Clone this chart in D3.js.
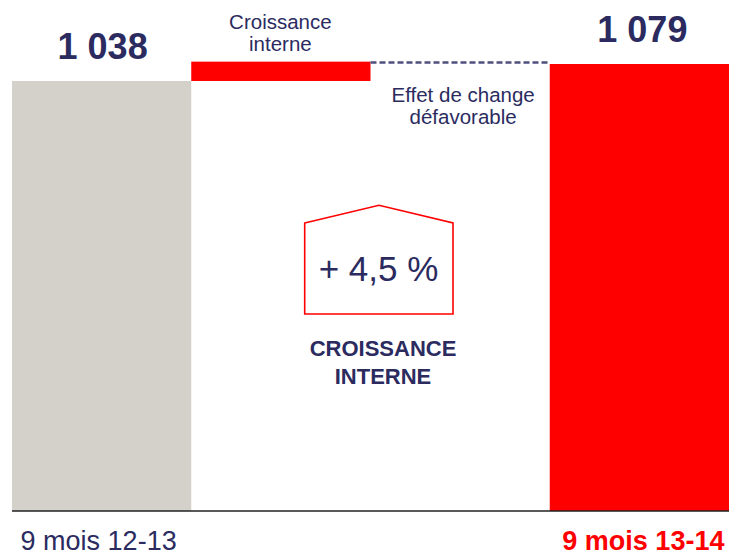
<!DOCTYPE html>
<html>
<head>
<meta charset="utf-8">
<script src="https://cdn.jsdelivr.net/npm/d3@7"></script>
<style>
  html, body { margin: 0; padding: 0; background: #fff; }
  svg { display: block; font-family: "Liberation Sans", Arial, sans-serif; }
</style>
</head>
<body>
<svg id="chart" width="730" height="556"></svg>
<script>
// ---- data ----
const categories = ["9 mois 12-13", "Croissance interne", "Effet de change défavorable", "9 mois 13-14"];
const stepKinds = ["total", "delta", "delta", "total"];
const stepValues = [1038, 46.7, -5.7, 1079];
const valueLabels = ["1 038", "", "", "1 079"];
const axisLabels = ["9 mois 12-13", "", "", "9 mois 13-14"];
const growthPct = "+ 4,5 %";
const growthCaption = ["CROISSANCE", "INTERNE"];

const NAVY = "#2b2b5f", RED = "#ff0000", GREY = "#d4d1ca";

const svg = d3.select("#chart");
const x = d3.scaleBand().domain(categories).range([12, 729]).padding(0);
const y = d3.scaleLinear().domain([0, 1233.5]).range([511, 0]);

// compute waterfall segments
let run = 0;
const segs = categories.map((c, i) => {
  let lo, hi;
  if (stepKinds[i] === "total") { lo = 0; hi = stepValues[i]; run = stepValues[i]; }
  else { const a = run, b = run + stepValues[i]; lo = Math.min(a, b); hi = Math.max(a, b); run = b; }
  return { c, i, lo, hi, v: stepValues[i] };
});

// bars (positive / totals)
svg.selectAll("rect.bar")
  .data(segs.filter(d => !(stepKinds[d.i] === "delta" && d.v < 0)))
  .join("rect")
  .attr("class", "bar")
  .attr("x", d => x(d.c))
  .attr("width", x.bandwidth())
  .attr("y", d => y(d.hi))
  .attr("height", d => y(d.lo) - y(d.hi))
  .attr("fill", d => d.i === 0 ? GREY : RED);

// negative delta: dashed marker
segs.filter(d => stepKinds[d.i] === "delta" && d.v < 0).forEach(d => {
  const ym = (y(d.hi) + y(d.lo)) / 2 - 0.3;
  svg.append("line")
    .attr("x1", x(d.c)).attr("x2", x(d.c) + x.bandwidth())
    .attr("y1", ym).attr("y2", ym)
    .attr("stroke", "#4f4f7c").attr("stroke-width", 2.4)
    .attr("stroke-dasharray", "6,3");
});

// axis
const axis = d3.axisBottom(x).tickSize(0).tickFormat((c, i) => axisLabels[i]);
const g = svg.append("g").attr("transform", `translate(0,${y(0)})`).call(axis);
g.select(".domain").attr("stroke", "#222").attr("stroke-width", 1.5).attr("d", `M12,0H729`);
g.selectAll(".tick text")
  .attr("y", 39).attr("dy", 0)
  .attr("font-family", "Liberation Sans, Arial, sans-serif")
  .attr("font-size", 27)
  .attr("fill", (c, i) => i === 3 ? RED : NAVY)
  .attr("font-weight", (c, i) => i === 3 ? "bold" : "normal")
  .attr("dx", (c, i) => i === 0 ? -3 : 4);

// value labels on totals
svg.selectAll("text.val")
  .data(segs.filter(d => valueLabels[d.i]))
  .join("text")
  .attr("class", "val")
  .attr("x", d => x(d.c) + x.bandwidth() / 2 + (d.i === 0 ? 1 : 3))
  .attr("y", d => y(d.hi) - 22)
  .attr("text-anchor", "middle")
  .attr("font-size", 36).attr("font-weight", "bold").attr("fill", NAVY)
  .text(d => valueLabels[d.i]);

// delta labels
const growth = segs[1], fx = segs[2];
const gl = svg.append("text").attr("text-anchor", "middle").attr("font-size", 20.5).attr("fill", NAVY);
gl.append("tspan").attr("x", x(growth.c) + x.bandwidth() / 2 - 0.5).attr("y", 29).text("Croissance");
gl.append("tspan").attr("x", x(growth.c) + x.bandwidth() / 2 - 0.5).attr("y", 51).text("interne");

const fl = svg.append("text").attr("text-anchor", "middle").attr("font-size", 20.5).attr("fill", NAVY);
fl.append("tspan").attr("x", x(fx.c) + x.bandwidth() / 2 + 3).attr("y", 102).text("Effet de change");
fl.append("tspan").attr("x", x(fx.c) + x.bandwidth() / 2 + 3).attr("y", 124).text("défavorable");

// house callout
const hx0 = 304.7, hx1 = 453, hApex = 379, hTop = 223, hPeak = 205.3, hBot = 314;
svg.append("path")
  .attr("d", `M${hx0},${hTop}L${hApex},${hPeak}L${hx1},${hTop}L${hx1},${hBot}L${hx0},${hBot}Z`)
  .attr("fill", "none").attr("stroke", RED).attr("stroke-width", 1.6);
svg.append("text").attr("x", 378.5).attr("y", 281).attr("text-anchor", "middle")
  .attr("font-size", 35).attr("fill", NAVY).text(growthPct);

const cap = svg.append("text").attr("text-anchor", "middle").attr("font-size", 22)
  .attr("font-weight", "bold").attr("fill", NAVY);
cap.append("tspan").attr("x", 383).attr("y", 356).text(growthCaption[0]);
cap.append("tspan").attr("x", 383).attr("y", 383.5).text(growthCaption[1]);
</script>
</body>
</html>
